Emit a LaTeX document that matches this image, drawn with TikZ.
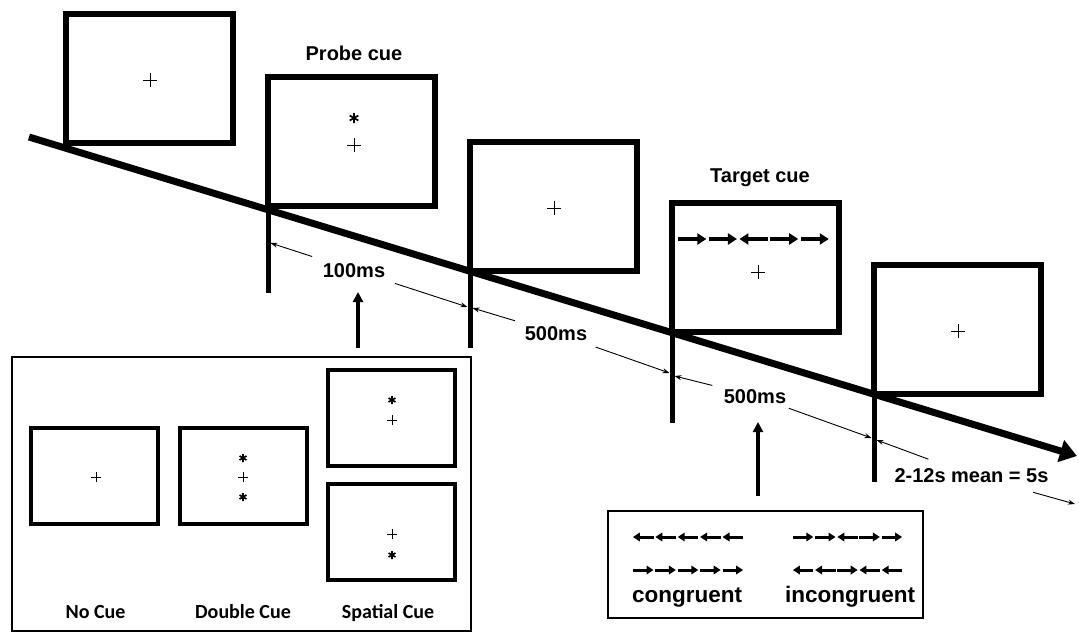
\documentclass[tikz,border=0pt]{standalone}
\usepackage{fontspec}
\setmainfont{Liberation Sans}
\newfontfamily\calibrifont{Carlito}
\usetikzlibrary{arrows.meta}

\tikzset{
  screenbox/.style={draw, line width=6pt, outer sep=0pt, inner sep=0pt,
    minimum width=167pt, minimum height=129pt, anchor=south west},
  minibox/.style={draw, line width=4pt, outer sep=0pt, inner sep=0pt,
    minimum width=127pt, minimum height=96pt, anchor=south west},
  tickline/.style={line width=5pt},
  timeline/.style={line width=7pt, -{Triangle[length=17pt,width=22pt]}},
  span/.style={line width=0.9pt},
  spantip/.tip={Stealth[length=7pt,width=5pt]},
  uparrow/.style={line width=3.5pt, -{Triangle[length=10pt,width=10pt]}},
  lab/.style={font=\fontsize{20}{24}\selectfont\bfseries, inner sep=0pt, anchor=base},
  cuelab/.style={font=\calibrifont\fontsize{20}{24}\selectfont\bfseries, inner sep=0pt, anchor=base},
  flanklab/.style={font=\fontsize{22.5}{26}\selectfont\bfseries, inner sep=0pt, anchor=base},
  bigflank/.style={line width=3.8pt, -{Triangle[length=9pt,width=11pt]}},
  smallflank/.style={line width=3pt, -{Triangle[length=7pt,width=8.5pt]}},
  fixcross/.pic={\draw[line width=1pt] (-#1,0) -- (#1,0) (0,-#1) -- (0,#1);},
  cuestar/.pic={\draw[line width=1.7pt] (90:#1) -- (270:#1) (30:#1) -- (210:#1) (150:#1) -- (330:#1);}
}

% one row of five flanker arrows: x0, y, pitch, style, directions
\newcommand\flankerrow[5]{%
  \foreach \d [count=\i] in {#5}
    \draw[#4] ({#1+(\i-0.5)*#3-\d*0.46*#3},#2) -- ({#1+(\i-0.5)*#3+\d*0.46*#3},#2);}

\begin{document}
\begin{tikzpicture}[x=1pt,y=-1pt]
\useasboundingbox (0,0) rectangle (1079,632);

% time axis
\coordinate (tl0) at (29,137);
\coordinate (tl1) at (1077,456);
\draw[timeline] (tl0) -- (tl1);

% trial screens
\node[screenbox] (f1) at (66,143) {};
\node[screenbox] (f2) at (268,206) {};
\node[screenbox] (f3) at (470,271) {};
\node[screenbox] (f4) at (672,332) {};
\node[screenbox] (f5) at (874,394) {};

\draw[tickline] (f2.south west) -- ++(0,87);
\draw[tickline] (f3.south west) -- ++(0,77);
\draw[tickline] (f4.south west) -- ++(0,91);
\draw[tickline] (f5.south west) -- ++(0,88);

% screen contents
\pic at (150,80) {fixcross=7};
\pic at (354,118) {cuestar=5};
\pic at (354,145) {fixcross=7};
\pic at (554,208) {fixcross=7};
\pic at (758,272) {fixcross=7};
\pic at (958,331) {fixcross=7};
\flankerrow{677}{239}{30.6}{bigflank}{1,1,-1,1,1}

\node[lab] (probe) at (354,60) {Probe cue};
\node[lab] (target) at (760,182) {Target cue};

% interval markers
\coordinate (s1) at (270.5,243);
\coordinate (e1) at (467.5,307);
\coordinate (s2) at (472.5,308);
\coordinate (e2) at (669.5,373);
\coordinate (s3) at (674.5,376);
\coordinate (e3) at (871.5,438);
\coordinate (s4) at (876.5,440);
\coordinate (e4) at (1075,504);

\node[lab] (d1) at (354,277) {100ms};
\node[lab] (d2) at (556,340) {500ms};
\node[lab] (d3) at (755,403) {500ms};
\node[lab] (d4) at (971.5,482) {2-12s mean = 5s};

\draw[span, {spantip}-, shorten >=44pt] (s1) -- (d1.center);
\draw[span, -{spantip}, shorten <=43pt] (d1.center) -- (e1);
\draw[span, {spantip}-, shorten >=43pt] (s2) -- (d2.center);
\draw[span, -{spantip}, shorten <=42pt] (d2.center) -- (e2);
\draw[span, {spantip}-, shorten >=44pt] (s3) -- (d3.center);
\draw[span, -{spantip}, shorten <=36pt] (d3.center) -- (e3);
\draw[span, {spantip}-, shorten >=46pt] (s4) -- (d4.center);
\draw[span, -{spantip}, shorten <=64pt] (d4.center) -- (e4);

% cue conditions
\node[draw, line width=1.5pt, inner sep=0pt, outer sep=0pt,
      minimum width=459pt, minimum height=274pt] (cuebox) at (241.5,494) {};
\node[minibox] (nc) at (31,524) {};
\node[minibox] (dc) at (180,524) {};
\node[minibox] (sct) at (328,466) {};
\node[minibox] (scb) at (328,580) {};

\pic at (96,477) {fixcross=5};
\pic at (243,458) {cuestar=4};
\pic at (243,477) {fixcross=5};
\pic at (243,497) {cuestar=4};
\pic at (392,400) {cuestar=4};
\pic at (392,420) {fixcross=5};
\pic at (392,534) {fixcross=5};
\pic at (392,555) {cuestar=4};

\node[cuelab] (ncl) at (95.5,618) {No Cue};
\node[cuelab] (dcl) at (243,618) {Double Cue};
\node[cuelab] (scl) at (388,618) {Spatial Cue};

\coordinate (c0) at (358,348);
\coordinate (c1) at (358,292);
\draw[uparrow] (c0) -- (c1);

% flanker conditions
\node[draw, line width=2.5pt, inner sep=0pt, outer sep=0pt,
      minimum width=315pt, minimum height=107pt] (flankbox) at (765.5,564.5) {};
\flankerrow{632}{537}{22.4}{smallflank}{-1,-1,-1,-1,-1}
\flankerrow{632}{570}{22.4}{smallflank}{1,1,1,1,1}
\flankerrow{792}{537}{22.2}{smallflank}{1,1,-1,1,1}
\flankerrow{792}{570}{22.2}{smallflank}{-1,-1,1,-1,-1}
\node[flanklab] (cong) at (687,602) {congruent};
\node[flanklab] (incong) at (850,602) {incongruent};

\coordinate (t0) at (758,496);
\coordinate (t1) at (758,422);
\draw[uparrow] (t0) -- (t1);
\end{tikzpicture}
\end{document}
